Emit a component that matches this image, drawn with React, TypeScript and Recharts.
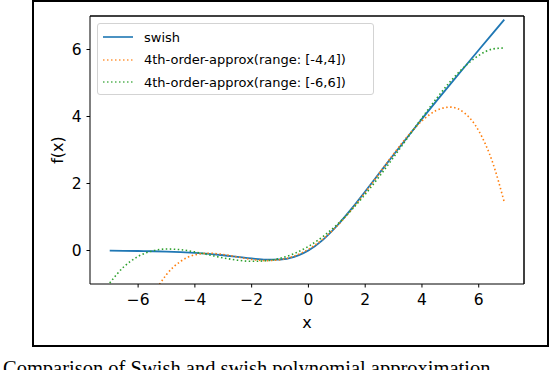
import { LineChart, Line, XAxis, YAxis, Legend, ReferenceLine } from 'recharts';

// sample positions (x) and curve values
const X_VALUES = [
  -7, -6.5, -6, -5.5, -5, -4.5, -4, -3.5, -3, -2.5, -2, -1.5, -1, -0.5, 0,
  0.5, 1, 1.5, 2, 2.5, 3, 3.5, 4, 4.5, 5, 5.5, 6, 6.5, 6.9,
];

const SWISH = [
  -0.006, -0.01, -0.015, -0.022, -0.033, -0.049, -0.072, -0.103, -0.142, -0.19,
  -0.238, -0.274, -0.269, -0.189, 0, 0.311, 0.731, 1.226, 1.762, 2.31, 2.858,
  3.397, 3.928, 4.451, 4.967, 5.478, 5.985, 6.49, 6.893,
];

const APPROX_4 = [
  -5.906, -3.898, -2.426, -1.395, -0.72, -0.322, -0.13, -0.081, -0.119, -0.194,
  -0.267, -0.302, -0.275, -0.166, 0.036, 0.334, 0.725, 1.198, 1.733, 2.306,
  2.881, 3.419, 3.87, 4.178, 4.28, 4.105, 3.574, 2.602, 1.443,
];

const APPROX_6 = [
  -0.969, -0.484, -0.178, -0.013, 0.044, 0.025, -0.042, -0.131, -0.22, -0.289,
  -0.323, -0.308, -0.233, -0.091, 0.123, 0.409, 0.767, 1.192, 1.677, 2.211,
  2.781, 3.369, 3.958, 4.525, 5.044, 5.487, 5.822, 6.016, 6.045,
];

const X_TICKS = [-6, -4, -2, 0, 2, 4, 6];
const Y_TICKS = [0, 2, 4, 6];
const X_DOMAIN = [-7.695, 7.595];
const Y_DOMAIN = [-1, 7];

const SERIES = [
  { key: 'swish', name: 'swish', color: '#1f77b4', dash: undefined as string | undefined },
  { key: 'approx4', name: '4th-order-approx(range: [-4,4])', color: '#ff7f0e', dash: '1.5 2.5' },
  { key: 'approx6', name: '4th-order-approx(range: [-6,6])', color: '#2ca02c', dash: '1.5 2.5' },
];

const data = X_VALUES.map((x, i) => ({
  x,
  swish: SWISH[i],
  approx4: APPROX_4[i],
  approx6: APPROX_6[i],
}));

const FONT = '"DejaVu Sans", sans-serif';
const tickStyle = { fill: '#000', fontSize: 15.5, fontFamily: FONT };

function LegendBox() {
  return (
    <div
      style={{
        width: 277,
        height: 72,
        boxSizing: 'border-box',
        border: '1px solid #d3d3d3',
        borderRadius: 3,
        background: 'rgba(255,255,255,0.85)',
        fontFamily: FONT,
        fontSize: 13,
        color: '#000',
        paddingTop: 2,
      }}
    >
      {SERIES.map((s) => (
        <div key={s.key} style={{ display: 'flex', alignItems: 'center', height: 22.5 }}>
          <svg width={30} height={6} style={{ marginLeft: 5, marginRight: 11 }}>
            <line
              x1={0}
              y1={3}
              x2={30}
              y2={3}
              stroke={s.color}
              strokeWidth={s.dash ? 1.5 : 2}
              strokeDasharray={s.dash}
              opacity={0.8}
            />
          </svg>
          <span style={{ whiteSpace: 'nowrap' }}>{s.name}</span>
        </div>
      ))}
    </div>
  );
}

function YLabel(props: any) {
  const vb = props.viewBox || { x: 50, y: 16, height: 268 };
  const cx = vb.x + 7;
  const cy = vb.y + vb.height / 2;
  return (
    <text
      x={cx}
      y={cy}
      transform={`rotate(-90 ${cx} ${cy})`}
      textAnchor="middle"
      dominantBaseline="central"
      fontFamily={FONT}
      fontSize={16}
      fill="#000"
    >
      f(x)
    </text>
  );
}

export default function App() {
  return (
    <div style={{ position: 'absolute', left: 0, top: 0, width: 552, height: 370, background: '#fff', overflow: 'hidden' }}>
      <div
        style={{
          position: 'absolute',
          left: 32,
          top: 0,
          width: 517,
          height: 347,
          boxSizing: 'border-box',
          border: '2px solid #000',
        }}
      />
      <div style={{ position: 'absolute', left: 0, top: 0 }}>
        <LineChart width={552} height={370} data={data} margin={{ top: 16, right: 28, bottom: 42, left: 50 }}>
          <XAxis
            dataKey="x"
            type="number"
            domain={X_DOMAIN}
            ticks={X_TICKS}
            allowDataOverflow
            height={44}
            tick={tickStyle}
            tickSize={3.5}
            tickMargin={6}
            tickFormatter={(v: number) => (v < 0 ? `\u2212${Math.abs(v)}` : String(v))}
            axisLine={{ stroke: '#000', strokeWidth: 1 }}
            tickLine={{ stroke: '#000', strokeWidth: 1 }}
            label={{ value: 'x', position: 'insideBottom', offset: 0, fill: '#000', fontSize: 16, fontFamily: FONT }}
          />
          <YAxis
            type="number"
            domain={Y_DOMAIN}
            ticks={Y_TICKS}
            allowDataOverflow
            width={40}
            tick={tickStyle}
            tickSize={3.5}
            tickMargin={5}
            axisLine={{ stroke: '#000', strokeWidth: 1 }}
            tickLine={{ stroke: '#000', strokeWidth: 1 }}
            label={{ content: (p: any) => <YLabel {...p} /> }}
          />
          {/* top and right spines of the axes box */}
          <ReferenceLine y={Y_DOMAIN[1]} stroke="#000" strokeWidth={1.5} strokeOpacity={1} ifOverflow="visible" />
          <ReferenceLine x={X_DOMAIN[1]} stroke="#000" strokeWidth={1.5} strokeOpacity={1} ifOverflow="visible" />
          <Legend
            layout="vertical"
            align="center"
            verticalAlign="middle"
            content={() => <LegendBox />}
            wrapperStyle={{ left: 97, top: 23, width: 277, height: 72 }}
          />
          {SERIES.map((s) => (
            <Line
              key={s.key}
              dataKey={s.key}
              name={s.name}
              type="monotone"
              stroke={s.color}
              strokeWidth={s.dash ? 1.6 : 1.8}
              strokeDasharray={s.dash}
              dot={false}
              activeDot={false}
              isAnimationActive={false}
            />
          ))}
        </LineChart>
      </div>
      <div
        style={{
          position: 'absolute',
          left: 3,
          top: 358,
          fontFamily: '"Liberation Serif", "Times New Roman", serif',
          fontSize: 20.5,
          lineHeight: '20px',
          whiteSpace: 'nowrap',
          color: '#000',
        }}
      >
        Comparison of Swish and swish polynomial approximation
      </div>
    </div>
  );
}
